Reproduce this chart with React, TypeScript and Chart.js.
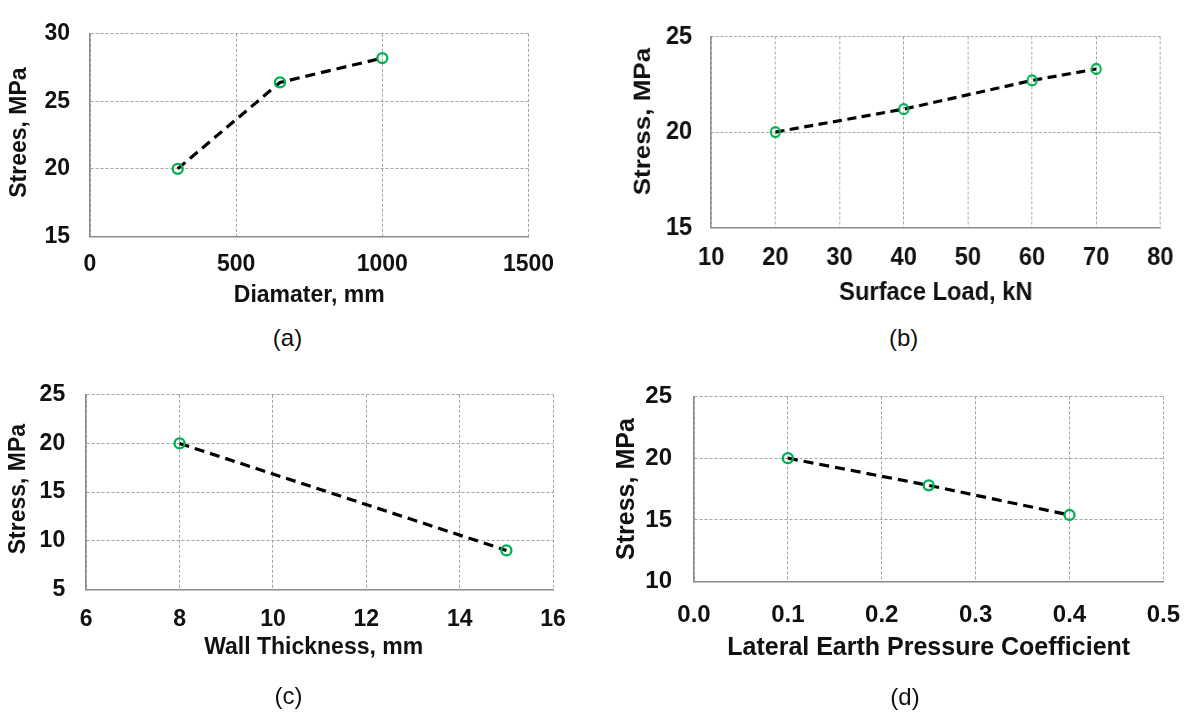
import React, { useEffect, useRef } from "react";
import { Chart, registerables } from "chart.js";

Chart.register(...registerables);

// ---- data ----
const diameterMm = [300, 650, 1000];
const stressByDiameter = [20.0, 26.4, 28.2];

const surfaceLoadKn = [20, 40, 60, 70];
const stressBySurfaceLoad = [20.0, 21.2, 22.7, 23.3];

const wallThicknessMm = [8, 15];
const stressByWallThickness = [20.0, 9.0];

const earthPressureCoeff = [0.1, 0.25, 0.4];
const stressByEarthPressure = [20.0, 17.8, 15.4];

// ---- axis ticks ----
const diameterTicks = [0, 500, 1000, 1500];
const stressTicksA = [15, 20, 25, 30];
const surfaceLoadTicks = [10, 20, 30, 40, 50, 60, 70, 80];
const stressTicksB = [15, 20, 25];
const wallTicks = [6, 8, 10, 12, 14, 16];
const stressTicksC = [5, 10, 15, 20, 25];
const coeffTicks = [0, 0.1, 0.2, 0.3, 0.4, 0.5];
const coeffTickLabels = ["0.0", "0.1", "0.2", "0.3", "0.4", "0.5"];
const stressTicksD = [10, 15, 20, 25];

const FONT = "'Liberation Sans', Arial, Helvetica, sans-serif";
const TEXT = "#111111";
const GREEN = "#00b050";

type Rect = { left: number; top: number; right: number; bottom: number };
type PanelSpec = {
  xs: number[];
  ys: number[];
  xTicks: number[];
  xLabels: string[];
  yTicks: number[];
  xTitle: string;
  yTitle: string;
  caption: string;
  box: { left: number; top: number; width: number; height: number };
  sx: number; // horizontal compression of the panel
  plot: Rect;
  tickFont: number;
  titleFont: number;
  yTitleX: number;
  yTitleShift: number;
  yTickGap: number;
  xTickY: number;
  xTitleY: number;
  xTitleShift: number;
  captionX: number;
  captionY: number;
};

const panels: PanelSpec[] = [
  {
    xs: diameterMm,
    ys: stressByDiameter,
    xTicks: diameterTicks,
    xLabels: diameterTicks.map(String),
    yTicks: stressTicksA,
    xTitle: "Diamater, mm",
    yTitle: "Strees, MPa",
    caption: "(a)",
    box: { left: 0, top: 0, width: 600, height: 320 },
    sx: 1,
    plot: { left: 90, top: 19, right: 528.5, bottom: 236.3 },
    tickFont: 23,
    titleFont: 23,
    yTitleX: 20,
    yTitleShift: -2.5,
    yTickGap: 20,
    xTickY: 264.7,
    xTitleY: 295.8,
    xTitleShift: 0,
    captionX: 287.5,
    captionY: 340,
  },
  {
    xs: surfaceLoadKn,
    ys: stressBySurfaceLoad,
    xTicks: surfaceLoadTicks,
    xLabels: surfaceLoadTicks.map(String),
    yTicks: stressTicksB,
    xTitle: "Surface Load, kN",
    yTitle: "Stress, MPa",
    caption: "(b)",
    box: { left: 600, top: 0, width: 599, height: 320 },
    sx: 0.91,
    plot: { left: 711.2, top: 17.3, right: 1160.4, bottom: 227.7 },
    tickFont: 26,
    titleFont: 26,
    yTitleX: 643.3,
    yTitleShift: -10.5,
    yTickGap: 19,
    xTickY: 257.5,
    xTitleY: 292.5,
    xTitleShift: 0,
    captionX: 903.7,
    captionY: 340,
  },
  {
    xs: wallThicknessMm,
    ys: stressByWallThickness,
    xTicks: wallTicks,
    xLabels: wallTicks.map(String),
    yTicks: stressTicksC,
    xTitle: "Wall Thickness, mm",
    yTitle: "Stress, MPa",
    caption: "(c)",
    box: { left: 0, top: 360, width: 600, height: 353 },
    sx: 1,
    plot: { left: 86.2, top: 386.3, right: 553.1, bottom: 589.3 },
    tickFont: 23,
    titleFont: 23,
    yTitleX: 18.5,
    yTitleShift: -3,
    yTickGap: 21,
    xTickY: 619.2,
    xTitleY: 648,
    xTitleShift: -6,
    captionX: 288.6,
    captionY: 698,
  },
  {
    xs: earthPressureCoeff,
    ys: stressByEarthPressure,
    xTicks: coeffTicks,
    xLabels: coeffTickLabels,
    yTicks: stressTicksD,
    xTitle: "Lateral Earth Pressure Coefficient",
    yTitle: "Stress, MPa",
    caption: "(d)",
    box: { left: 600, top: 360, width: 599, height: 353 },
    sx: 1,
    plot: { left: 694, top: 387.3, right: 1171.9, bottom: 581.7 },
    tickFont: 24,
    titleFont: 25,
    yTitleX: 626.7,
    yTitleShift: 0,
    yTickGap: 22,
    xTickY: 615,
    xTitleY: 648.3,
    xTitleShift: 0,
    captionX: 905,
    captionY: 699,
  },
];

// Draws both axis titles; positions come from the plugin options (canvas px).
const axisTitlesPlugin = {
  id: "axisTitles",
  afterDraw(chart: any, _args: any, opts: any) {
    const { ctx, chartArea } = chart;
    ctx.save();
    ctx.font = `bold ${opts.size}px ${FONT}`;
    ctx.fillStyle = TEXT;
    ctx.textAlign = "center";
    ctx.textBaseline = "middle";
    ctx.fillText(opts.xText, (chartArea.left + chartArea.right) / 2 + opts.xShift, opts.xY);
    ctx.translate(opts.yX, (chartArea.top + chartArea.bottom) / 2 + opts.yShift);
    ctx.rotate(-Math.PI / 2);
    ctx.fillText(opts.yText, 0, 0);
    ctx.restore();
  },
};

function StressPanel({ spec }: { spec: PanelSpec }) {
  const ref = useRef<HTMLCanvasElement | null>(null);
  const { box, sx } = spec;
  const canvasW = Math.round(box.width / sx);

  useEffect(() => {
    if (!ref.current) return;
    const { plot } = spec;
    const tickLH = spec.tickFont * 1.2;
    // horizontal page position -> canvas position
    const cx = (px: number) => (px - box.left) / sx;

    const yAxisWidth = cx(plot.left);
    const padTop = plot.top - box.top;
    const padRight = canvasW - cx(plot.right);
    const xAxisHeight = box.top + box.height - plot.bottom;
    const xTickPad = spec.xTickY - plot.bottom - tickLH / 2;
    const yTickPad = spec.yTickGap / sx;

    const tickFont = { family: FONT, size: spec.tickFont, weight: "bold" as const };

    const gridCommon = {
      color: "#a3a3a3",
      lineWidth: 1,
      drawTicks: false,
    };
    const borderCommon = {
      display: true,
      color: "#8a8a8a",
      width: 1.5,
      dash: [3, 2],
    };

    const chart = new Chart(ref.current, {
      type: "line",
      data: {
        datasets: [
          {
            data: spec.xs.map((x, i) => ({ x, y: spec.ys[i] })),
            borderColor: "#000000",
            borderWidth: 3.2,
            borderDash: [10, 6],
            tension: 0,
            fill: false,
            pointStyle: "circle",
            pointRadius: 5,
            pointBorderWidth: 2.3,
            pointBorderColor: GREEN,
            pointBackgroundColor: "rgba(255,255,255,0)",
          },
        ],
      },
      plugins: [axisTitlesPlugin],
      options: {
        animation: false,
        responsive: false,
        maintainAspectRatio: false,
        layout: {
          padding: { left: 0, right: padRight, top: padTop, bottom: 0 },
        },
        plugins: {
          legend: { display: false },
          tooltip: { enabled: false },
          axisTitles: {
            size: spec.titleFont,
            xText: spec.xTitle,
            yText: spec.yTitle,
            xY: spec.xTitleY - box.top,
            xShift: spec.xTitleShift / sx,
            yX: cx(spec.yTitleX),
            yShift: spec.yTitleShift,
          },
        } as any,
        scales: {
          x: {
            type: "linear",
            min: spec.xTicks[0],
            max: spec.xTicks[spec.xTicks.length - 1],
            afterBuildTicks: (axis: any) => {
              axis.ticks = spec.xTicks.map((v) => ({ value: v }));
            },
            afterFit: (axis: any) => {
              axis.height = xAxisHeight;
            },
            ticks: {
              font: tickFont,
              color: TEXT,
              padding: xTickPad,
              maxRotation: 0,
              autoSkip: false,
              callback: (_v: any, i: number) => spec.xLabels[i],
            },
            grid: gridCommon,
            border: borderCommon,
          },
          y: {
            type: "linear",
            min: spec.yTicks[0],
            max: spec.yTicks[spec.yTicks.length - 1],
            afterBuildTicks: (axis: any) => {
              axis.ticks = spec.yTicks.map((v) => ({ value: v }));
            },
            afterFit: (axis: any) => {
              axis.width = yAxisWidth;
            },
            ticks: {
              font: tickFont,
              color: TEXT,
              padding: yTickPad,
              autoSkip: false,
              callback: (_v: any, i: number) => String(spec.yTicks[i]),
            },
            grid: gridCommon,
            border: borderCommon,
          },
        },
      },
    });
    return () => chart.destroy();
  }, [spec]);

  const capSize = 24;
  return (
    <>
      <canvas
        ref={ref}
        width={canvasW}
        height={box.height}
        style={{
          position: "absolute",
          left: box.left,
          top: box.top,
          width: canvasW,
          height: box.height,
          transform: sx !== 1 ? `scaleX(${sx})` : undefined,
          transformOrigin: "0 0",
        }}
      />
      <div
        style={{
          position: "absolute",
          left: spec.captionX,
          top: spec.captionY - capSize * 0.5885,
          transform: "translateX(-50%)",
          fontFamily: FONT,
          fontSize: capSize,
          lineHeight: `${capSize}px`,
          color: TEXT,
          whiteSpace: "nowrap",
        }}
      >
        {spec.caption}
      </div>
    </>
  );
}

export default function App() {
  return (
    <div
      style={{
        position: "absolute",
        left: 0,
        top: 0,
        width: 1199,
        height: 713,
        background: "#ffffff",
        overflow: "hidden",
      }}
    >
      {panels.map((p) => (
        <StressPanel key={p.caption} spec={p} />
      ))}
    </div>
  );
}
